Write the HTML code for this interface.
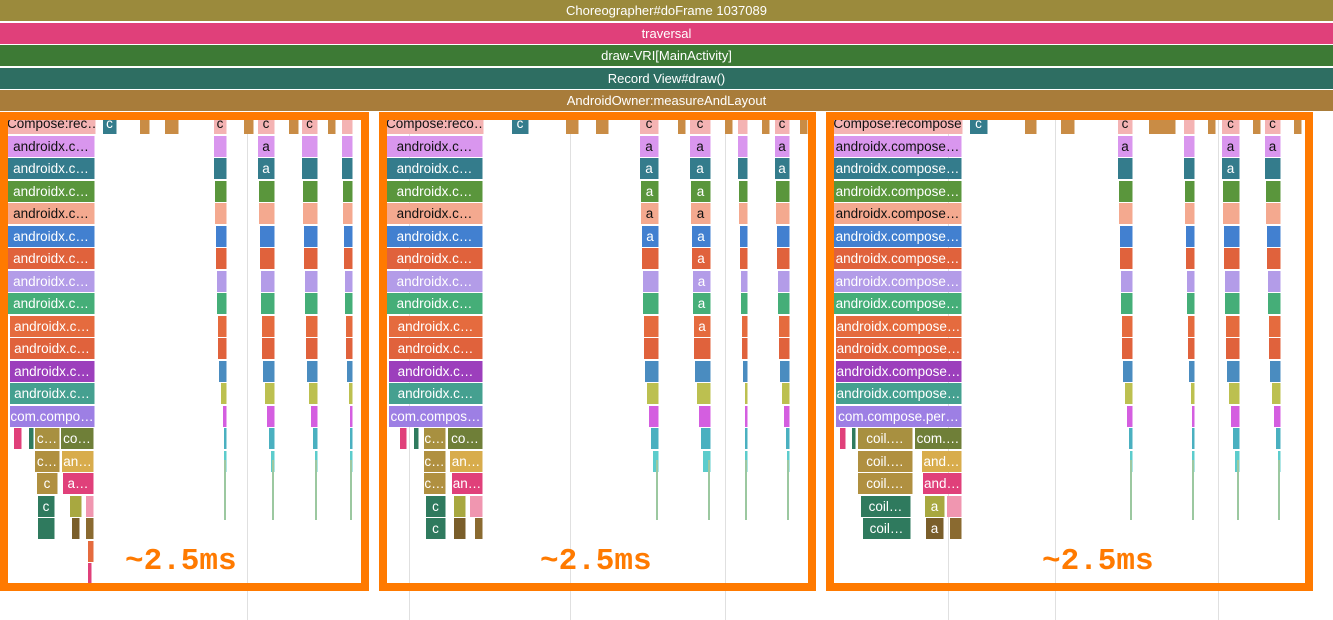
<!DOCTYPE html>
<html><head><meta charset="utf-8"><style>
body{margin:0;width:1333px;height:620px;background:#fff;position:relative;overflow:hidden;font-family:"Liberation Sans",sans-serif}
.b{position:absolute;height:21px;font-size:13.5px;line-height:21px;color:#fff;text-align:center;overflow:hidden;white-space:nowrap;box-sizing:border-box;border-right:1px solid rgba(255,255,255,.5)}
.d{color:#111}
.top{position:absolute;left:0;width:1333px;height:21px;font-size:13px;line-height:21px;color:#fff;text-align:center}
.box{position:absolute;border:8px solid #ff7a00;box-sizing:border-box}
.lbl{position:absolute;font-family:"Liberation Mono",monospace;font-weight:bold;font-size:31px;color:#ff7a00}
.g{position:absolute;top:113px;width:1px;height:507px;background:#e0e0e0}
</style></head><body>
<div class="top" style="top:0;background:#9b8a3c">Choreographer#doFrame 1037089</div>
<div class="top" style="top:23px;background:#e0407a">traversal</div>
<div class="top" style="top:45px;background:#3d7a35">draw-VRI[MainActivity]</div>
<div class="top" style="top:68px;background:#2e6e62">Record View#draw()</div>
<div class="top" style="top:90px;background:#a87c3a">AndroidOwner:measureAndLayout</div>
<div class="g" style="left:247px"></div><div class="g" style="left:409px"></div><div class="g" style="left:570px"></div><div class="g" style="left:725px"></div><div class="g" style="left:948px"></div><div class="g" style="left:1055px"></div><div class="g" style="left:1218px"></div>
<div id="c"></div>
<div class="box" style="left:0;top:112px;width:369px;height:479px"></div>
<div class="box" style="left:379px;top:112px;width:437px;height:479px"></div>
<div class="box" style="left:826px;top:112px;width:487px;height:479px"></div>
<div class="lbl" style="left:125px;top:544px">~2.5ms</div>
<div class="lbl" style="left:540px;top:544px">~2.5ms</div>
<div class="lbl" style="left:1042px;top:544px">~2.5ms</div>
<script>
var C=document.getElementById('c'),h='';
function b(x,w,r,col,t,dark){var y=113+22.5*r;h+='<div class="b'+(dark?' d':'')+'" style="left:'+x+'px;top:'+y+'px;width:'+w+'px;background:'+col+'">'+(t||'')+'</div>';}
var cols=['#d996ee','#347c8c','#5a963c','#f4a98f','#4280d0','#e0623c','#b39ce8','#45ae78','#e56b3e','#e0623c','#9c3fbc','#45a090','#9d7fe4'];
var dk=[1,0,0,1,0,0,0,0,0,0,0,0,0];
function box(x0,x1,top,lab,narrow,sub){
 b(x0-1,x1-x0+2,0,'#f4b3b3',top,1);
 for(var i=0;i<13;i++){var l=i==12?lab[1]:lab[0];b(x0+(i>7?2:0),x1-x0-(i>7?2:0),i+1,cols[i],l,dk[i]);}
 narrow.forEach(function(n){var x=n[0],w=n[1];b(x,w,0,'#f4b3b3',n[2]?'c':'',1);
  for(var i=0;i<10;i++){var ww=Math.max(4,w-Math.floor(i/2));b(x+(w-ww),ww,i+1,cols[i],n[4]&&i<n[4]?'a':'',dk[i]);}
  var ex=['#4a8cc0','#bcc050','#d45ee0','#4ab0c0','#5ccccc'];for(var j=0;j<5;j++){var ww=Math.max(3,w-5-j*2);b(x+w-ww,ww,11+j,ex[j]);}
  h+='<div style="position:absolute;left:'+(x+w-3)+'px;top:460px;width:2px;height:60px;background:#9cc8a0"></div>';
 });
 sub.forEach(function(s){b(s[0],s[1],s[2]-1,s[3],s[4]);});
}
var L1=['androidx.c…','com.compo…'];
box(8,95,'Compose:rec…',L1,[[214,13,1,13,0],[258,17,1,13,2],[302,16,1,13,0],[342,11,0,13,0]],
 [[35,25,15,'#a89040','c…'],[61,33,15,'#6f7f38','co…'],[35,25,16,'#b09040','c…'],[62,32,16,'#d8ac4c','an…'],[37,21,17,'#b09040','c'],[63,31,17,'#e0407a','a…'],[38,17,18,'#2f7a5e','c'],[38,17,19,'#2f7a5e',''],[72,8,19,'#7a5e2a'],[86,8,19,'#8a6a30'],[14,8,15,'#e0407a'],[29,5,15,'#2f7a5e'],[86,8,18,'#f096b0'],[70,12,18,'#a8a840'],[88,6,20,'#e56b3e'],[88,4,21,'#e0407a']]);
box(387,483,'Compose:reco…',['androidx.c…','com.compos…'],[[640,19,1,13,5],[690,21,1,13,9],[738,10,0,13,0],[775,15,1,13,2]],
 [[424,22,15,'#a89040','c…'],[448,35,15,'#6f7f38','co…'],[424,22,16,'#b09040','c…'],[450,33,16,'#d8ac4c','an…'],[424,22,17,'#b09040','c…'],[452,31,17,'#e0407a','an…'],[426,20,18,'#2f7a5e','c'],[426,20,19,'#2f7a5e','c'],[454,12,18,'#a8a840'],[470,13,18,'#f096b0'],[454,12,19,'#7a5e2a'],[475,8,19,'#8a6a30'],[400,7,15,'#e0407a'],[414,5,15,'#2f7a5e']]);
box(834,962,'Compose:recompose',['androidx.compose…','com.compose.per…'],[[1118,15,1,13,1],[1184,11,0,13,0],[1222,18,1,13,2],[1265,16,1,13,1]],
 [[858,55,15,'#a89040','coil.…'],[915,47,15,'#6f7f38','com.…'],[858,55,16,'#b09040','coil.…'],[922,40,16,'#d8ac4c','and…'],[858,55,17,'#b09040','coil.…'],[923,39,17,'#e0407a','and…'],[861,50,18,'#2f7a5e','coil…'],[863,48,19,'#2f7a5e','coil…'],[925,20,18,'#a8a840','a'],[947,15,18,'#f096b0'],[926,18,19,'#7a5e2a','a'],[950,12,19,'#8a6a30'],[840,6,15,'#e0407a'],[852,4,15,'#2f7a5e']]);
[[103,14,'#347c8c'],[140,10,'#c98c45'],[165,14,'#c98c45'],[244,10,'#c98c45'],[289,10,'#c98c45'],[328,8,'#c98c45'],[512,17,'#347c8c'],[566,13,'#c98c45'],[596,13,'#c98c45'],[678,8,'#c98c45'],[725,8,'#c98c45'],[762,8,'#c98c45'],[800,8,'#c98c45'],[970,18,'#347c8c'],[1025,12,'#c98c45'],[1061,14,'#c98c45'],[1149,27,'#c98c45'],[1208,8,'#c98c45'],[1253,8,'#c98c45'],[1294,8,'#c98c45']].forEach(function(s){b(s[0],s[1],0,s[2],s[2]=='#347c8c'?'c':'');});
C.innerHTML=h;
</script>
</body></html>
